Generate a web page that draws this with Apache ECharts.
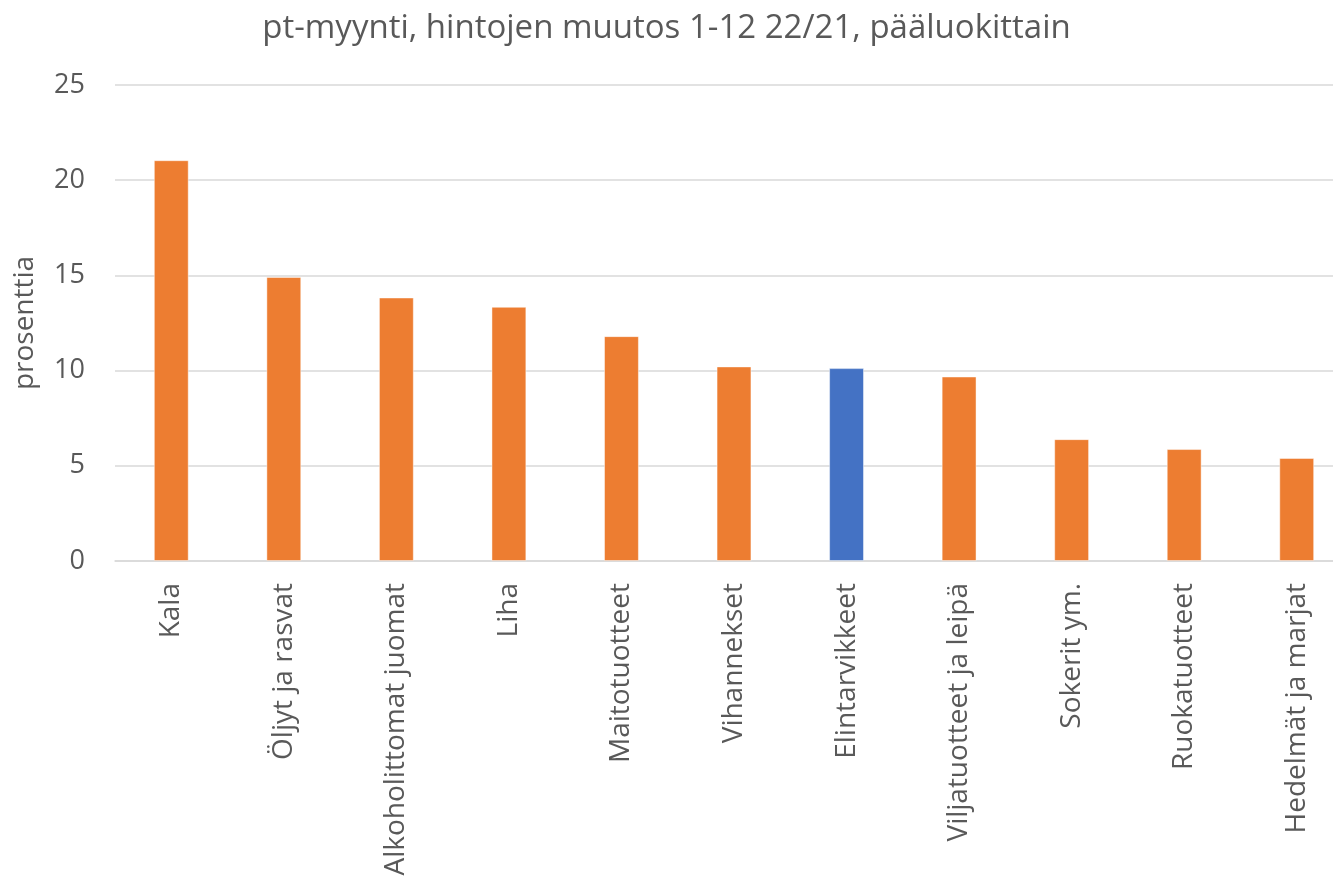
<!DOCTYPE html>
<html>
<head>
<meta charset="utf-8">
<script src="https://cdn.jsdelivr.net/npm/echarts@6/dist/echarts.min.js"></script>
<style>
  html, body { margin: 0; padding: 0; background: #fff; }
  #chart { width: 1333px; height: 879px; }
</style>
</head>
<body>
<div id="chart"></div>
<script>
const categories = ['Kala', 'Öljyt ja rasvat', 'Alkoholittomat juomat', 'Liha', 'Maitotuotteet',
  'Vihannekset', 'Elintarvikkeet', 'Viljatuotteet ja leipä', 'Sokerit ym.', 'Ruokatuotteet', 'Hedelmät ja marjat']
const values = [21.05, 14.92, 13.84, 13.35, 11.81, 10.22, 10.13, 9.69, 6.40, 5.88, 5.41]
const highlighted = ['Elintarvikkeet']
const yTicks = { min: 0, max: 25, interval: 5 }

const font = '"Open Sans", "Noto Sans", sans-serif'
const textColor = '#595959'

const chart = echarts.init(document.getElementById('chart'))
chart.setOption({
  animation: false,
  title: {
    text: 'pt-myynti, hintojen muutos 1-12 22/21, pääluokittain',
    left: 'center',
    top: 7,
    textStyle: { fontFamily: font, fontSize: 33, fontWeight: 'normal', color: textColor }
  },
  grid: { left: 115, top: 85, right: -20, bottom: 318, outerBoundsMode: 'none' },
  xAxis: {
    type: 'category',
    data: categories,
    axisLine: { lineStyle: { color: '#d9d9d9', width: 1.5 } },
    axisTick: { show: false },
    axisLabel: {
      rotate: 90,
      interval: 0,
      margin: 22,
      fontFamily: font,
      fontSize: 28,
      color: textColor
    }
  },
  yAxis: {
    type: 'value',
    min: yTicks.min,
    max: yTicks.max,
    interval: yTicks.interval,
    name: 'prosenttia',
    nameLocation: 'middle',
    nameGap: 76,
    nameTextStyle: { fontFamily: font, fontSize: 28, color: textColor },
    axisLabel: { margin: 30, fontFamily: font, fontSize: 27, color: textColor },
    splitLine: { lineStyle: { color: '#d9d9d9', width: 1.5 } }
  },
  series: [{
    type: 'bar',
    barWidth: '31%',
    data: categories.map((c, i) => ({
      value: values[i],
      itemStyle: { color: highlighted.includes(c) ? '#4472C4' : '#ED7D31' }
    })),
    itemStyle: { borderColor: 'rgba(255,255,255,0.45)', borderWidth: 1 }
  }]
})
</script>
</body>
</html>
